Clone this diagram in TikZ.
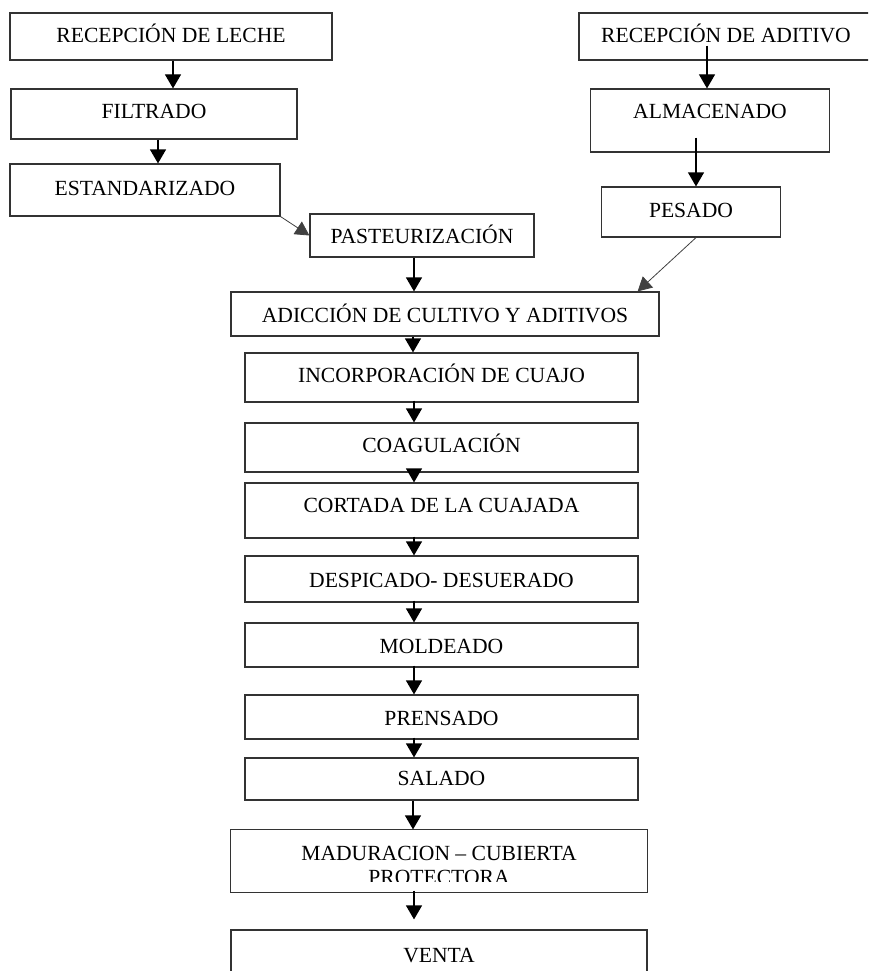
\documentclass[tikz,border=0pt]{standalone}
\usepackage{fontspec}
\setmainfont{Liberation Serif}
\usetikzlibrary{arrows.meta}
\newcommand\letrapaso{\fontsize{21.6}{24}\selectfont}
\tikzset{
  paso/.style={draw=black!80,line width=1.2pt,inner sep=0pt,anchor=base,font=\letrapaso},
  caja/.style n args={3}{paso,minimum width=#1,text height=#2,text depth=#3},
  flecha/.style={line width=1.2pt,-{Triangle[length=14pt,width=16pt]}},
  diagonal/.style={line width=0.8pt,draw=black!75,-{Triangle[length=14pt,width=15pt]}}
}
\begin{document}
\begin{tikzpicture}[x=1pt,y=-1pt]
    \useasboundingbox (0,0) rectangle (868,971);
    \clip (0,0) rectangle (868,971);
    % leche
    \node[caja={322}{30}{17}] (leche) at (171,43) {RECEPCIÓN DE LECHE};
    \node[caja={286}{30}{20}] (filtrado) at (154,119) {FILTRADO};
    \node[caja={270}{31}{21}] (estand) at (145,195) {ESTANDARIZADO};
    \node[caja={224}{29}{14}] (pasteur) at (422,243) {PASTEURIZACIÓN};
    % aditivo
    \node[caja={294}{30}{17}] (aditivo) at (726,43) {RECEPCIÓN DE ADITIVO};
    \node[caja={239}{30}{33}] (almac) at (710,119) {ALMACENADO};
    \node[caja={179}{30}{20}] (pesado) at (691,217) {PESADO};
    % linea central
    \node[caja={428}{30}{14}] (adicion) at (445,322) {ADICCIÓN DE CULTIVO Y ADITIVOS};
    \node[caja={393}{29}{20}] (incorp) at (441.5,382) {INCORPORACIÓN DE CUAJO};
    \node[caja={393}{29}{20}] (coag) at (441.5,452) {COAGULACIÓN};
    \node[caja={393}{29}{26}] (cortada) at (441.5,512) {CORTADA DE LA CUAJADA};
    \node[caja={393}{31}{15}] (despic) at (441.5,587) {DESPICADO- DESUERADO};
    \node[caja={393}{30}{14}] (molde) at (441.5,653) {MOLDEADO};
    \node[caja={393}{30}{14}] (prensa) at (441.5,725) {PRENSADO};
    \node[caja={393}{27}{15}] (salado) at (441.5,785) {SALADO};
    \begin{scope}
        \clip (0,0) rectangle (868,881);
        \node[caja={416}{54}{8},draw=none,align=center] (madura) at (439,884) {MADURACION – CUBIERTA\\PROTECTORA};
    \end{scope}
    \draw[black!80,line width=1.2pt] (madura.north west) rectangle (madura.south east);
    \node[caja={416}{32}{40}] (venta) at (439,962) {VENTA};

    \draw[flecha] ([xshift=2pt]leche.south) -- ([xshift=19pt]filtrado.north);
    \draw[flecha] ([xshift=4pt]filtrado.south) -- ([xshift=13pt]estand.north);
    \draw[diagonal] (estand.south east) -- (pasteur.west);
    \draw[flecha] ([xshift=-8pt]pasteur.south) -- ([xshift=-31pt]adicion.north);
    \draw[flecha] ([xshift=-19pt,yshift=15pt]aditivo.south) -- ([xshift=-3pt]almac.north);
    \draw[flecha] ([xshift=-14pt,yshift=15pt]almac.south) -- ([xshift=5pt]pesado.north);
    \draw[diagonal] ([xshift=5pt]pesado.south) -- ([xshift=-22pt]adicion.north east);
    \draw[flecha] ([xshift=-32pt]adicion.south) -- ([xshift=-28.5pt]incorp.north);
    \foreach \a/\b in {incorp/coag,coag/cortada,cortada/despic,despic/molde,molde/prensa,prensa/salado}
        \draw[flecha] ([xshift=-27.5pt,yshift=2pt]\a.south) -- ([xshift=-27.5pt]\b.north);
    \draw[flecha] ([xshift=-28.5pt]salado.south) -- ([xshift=-26pt]madura.north);
    \draw[flecha] ([xshift=-25pt,yshift=2pt]madura.south) -- ([xshift=-25pt,yshift=10pt]venta.north);
\end{tikzpicture}
\end{document}
